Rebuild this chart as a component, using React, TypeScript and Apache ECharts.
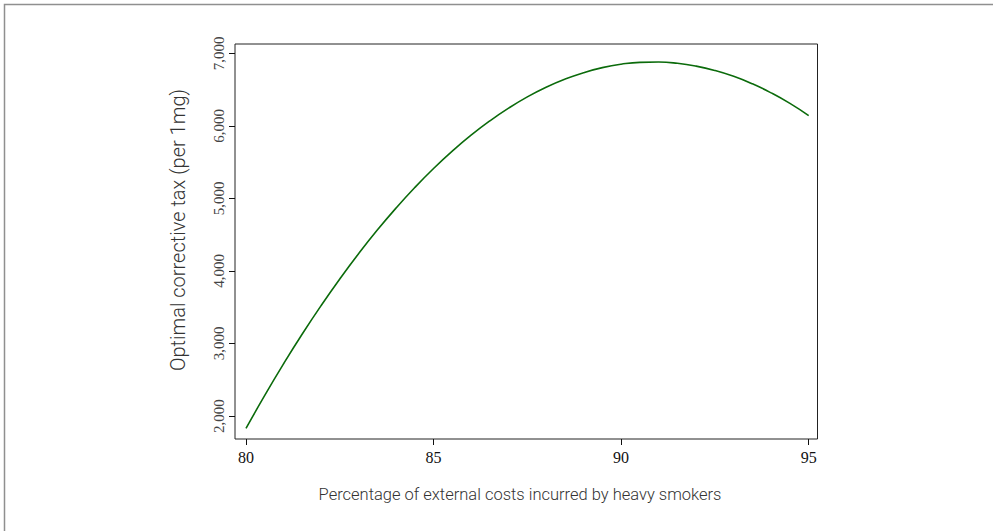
import React, { useEffect, useRef } from "react";
import * as echarts from "echarts";

// Percentage of external costs incurred by heavy smokers (x) and optimal corrective tax (y)
const xValues = [80, 80.5, 81, 81.5, 82, 82.5, 83, 83.5, 84, 84.5, 85, 85.5, 86, 86.5, 87, 87.5, 88, 88.5, 89, 89.5, 90, 90.5, 91, 91.5, 92, 92.5, 93, 93.5, 94, 94.5, 95];
const taxValues = [1830, 2285, 2718, 3130, 3520, 3889, 4237, 4563, 4867, 5150, 5412, 5652, 5871, 6068, 6244, 6399, 6532, 6643, 6733, 6802, 6849, 6875, 6879, 6862, 6823, 6763, 6682, 6579, 6454, 6309, 6141];
const xTicks = [80, 85, 90, 95];
const yTicks = [2000, 3000, 4000, 5000, 6000, 7000];
const xTitle = "Percentage of external costs incurred by heavy smokers";
const yTitle = "Optimal corrective tax (per 1mg)";

export default function App() {
  const ref = useRef<HTMLDivElement>(null);
  useEffect(() => {
    if (!ref.current) return;
    const chart = echarts.init(ref.current, null, { renderer: "svg" });
    chart.setOption({
      animation: false,
      backgroundColor: "#ffffff",
      graphic: [
        {
          type: "rect",
          shape: { x: 4.5, y: 4.5, width: 1100, height: 700 },
          style: { fill: "none", stroke: "#8f8f8f", lineWidth: 1.5 },
          silent: true,
        },
        {
          type: "text",
          x: 520,
          y: 494,
          style: {
            text: xTitle,
            fontFamily: "Roboto",
            fontWeight: 300,
            fontSize: 16.5,
            fill: "#333333",
            align: "center",
            verticalAlign: "middle",
          },
          silent: true,
        },
        {
          type: "text",
          x: 178,
          y: 230,
          rotation: Math.PI / 2,
          style: {
            text: yTitle,
            fontFamily: "Roboto",
            fontWeight: 300,
            fontSize: 20,
            fill: "#333333",
            align: "center",
            verticalAlign: "middle",
          },
          silent: true,
        },
      ],
      grid: {
        left: 235,
        top: 44,
        width: 582.5,
        height: 395,
        show: true,
        borderColor: "#222222",
        borderWidth: 1,
        backgroundColor: "transparent",
      },
      xAxis: {
        type: "value",
        min: 79.707,
        max: 95.235,
        axisLine: { show: false },
        splitLine: { show: false },
        axisTick: { show: true, length: 6, lineStyle: { color: "#111" }, customValues: xTicks },
        axisLabel: {
          customValues: xTicks,
          fontFamily: "Liberation Serif",
          fontSize: 16,
          color: "#111111",
          margin: 10,
        },
      },
      yAxis: {
        type: "value",
        min: 1683,
        max: 7128,
        axisLine: { show: false },
        splitLine: { show: false },
        axisTick: { show: true, length: 6, lineStyle: { color: "#111" }, customValues: yTicks },
        axisLabel: {
          customValues: yTicks,
          rotate: 90,
          fontFamily: "Liberation Serif",
          fontSize: 15,
          color: "#444444",
          margin: 9,
          formatter: (v: number) => v.toLocaleString("en-US"),
        },
      },
      series: [
        {
          type: "line",
          data: xValues.map((x, i) => [x, taxValues[i]]),
          smooth: true,
          showSymbol: false,
          lineStyle: { color: "#0b6b0b", width: 1.6 },
        },
      ],
    });
    return () => chart.dispose();
  }, []);
  return (
    <div
      ref={ref}
      style={{ position: "fixed", left: 0, top: 0, width: 993, height: 531, background: "#fff" }}
    />
  );
}
